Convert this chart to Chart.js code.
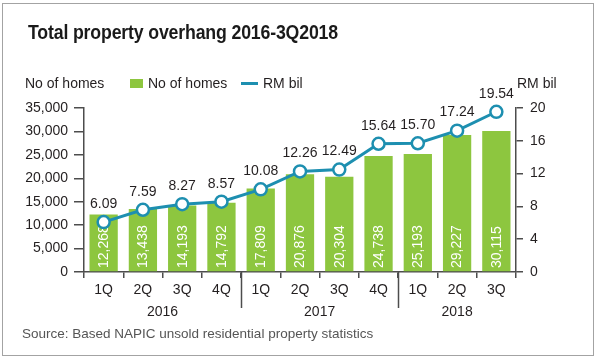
<!DOCTYPE html>
<html>
<head>
<meta charset="utf-8">
<script src="https://cdn.jsdelivr.net/npm/chart.js@4/dist/chart.umd.min.js"></script>
<style>
  html, body { margin: 0; padding: 0; background: #fff; }
  #wrap { position: relative; width: 600px; height: 361px; overflow: hidden;
          font-family: "Liberation Sans", Arial, Helvetica, sans-serif; color: #231f20; }
  #frame { position: absolute; left: 2px; top: 3px; width: 592px; height: 353px;
           border: 1.5px solid #a3a3a3; box-sizing: border-box; }
  #chart { position: absolute; left: 0; top: 0; }
  .t { position: absolute; white-space: nowrap; line-height: 1; }
  #title { left: 28px; top: 21px; font-size: 21px; font-weight: bold;
           transform-origin: 0 0; color: #1a1a1a; letter-spacing: -0.2px; }
  .lbl { font-size: 14px; top: 76px; }
  #swatch { position: absolute; left: 130px; top: 79px; width: 13px; height: 9px; background: #8dc63f; }
  #lineKey { position: absolute; left: 241px; top: 82px; width: 17px; height: 3px; background: #1d8fb0; }
  #source { left: 22px; top: 327px; font-size: 13.5px; color: #555; }
</style>
</head>
<body>
<div id="wrap">
  <div id="frame"></div>
  <canvas id="chart" width="600" height="361"></canvas>
  <div class="t" id="title">Total property overhang 2016-3Q2018</div>
  <div class="t lbl" style="left:25px">No of homes</div>
  <div id="swatch"></div>
  <div class="t lbl" style="left:148px">No of homes</div>
  <div id="lineKey"></div>
  <div class="t lbl" style="left:263px">RM bil</div>
  <div class="t lbl" style="left:517px">RM bil</div>
  <div class="t" id="source">Source: Based NAPIC unsold residential property statistics</div>
</div>
<script>
// data
var quarters = ["1Q", "2Q", "3Q", "4Q", "1Q", "2Q", "3Q", "4Q", "1Q", "2Q", "3Q"];
var years = ["2016", "2017", "2018"];
var yearFirst = [0, 4, 8];
var yearLast = [3, 7, 10];
var homes = [12268, 13438, 14193, 14792, 17809, 20876, 20304, 24738, 25193, 29227, 30115];
var rmBil = [6.09, 7.59, 8.27, 8.57, 10.08, 12.26, 12.49, 15.64, 15.70, 17.24, 19.54];
var homesMax = 35000, homesStep = 5000;
var rmMax = 20, rmStep = 4;

(function () {
  var GREEN = "#8dc63f";
  var TEAL = "#1d8fb0";
  var AXIS = "#4d4d4d";
  var TEXT = "#231f20";
  var FONT = '"Liberation Sans", Arial, Helvetica, sans-serif';

  // squeeze the title to the condensed width of the original
  var title = document.getElementById("title");
  var tw = title.getBoundingClientRect().width;
  if (tw > 0) title.style.transform = "scaleX(" + (310 / tw) + ")";

  // -------- custom label drawing --------
  var labelPlugin = {
    id: "labels",
    afterDatasetDraw: function (chart, args) {
      if (args.meta.type !== "bar") return;
      var ctx = chart.ctx, bottom = chart.chartArea.bottom;
      ctx.save();
      ctx.fillStyle = "#fff";
      ctx.font = "14px " + FONT;
      ctx.textAlign = "left";
      ctx.textBaseline = "middle";
      args.meta.data.forEach(function (bar, i) {
        ctx.save();
        ctx.translate(bar.x + 0.5, bottom - 4);
        ctx.rotate(-Math.PI / 2);
        ctx.fillText(homes[i].toLocaleString("en-US"), 0, 0);
        ctx.restore();
      });
      ctx.restore();
    },
    afterDatasetsDraw: function (chart) {
      var ctx = chart.ctx;
      var meta = chart.getDatasetMeta(0);
      ctx.save();
      ctx.fillStyle = TEXT;
      ctx.font = "14px " + FONT;
      ctx.textAlign = "center";
      ctx.textBaseline = "middle";
      meta.data.forEach(function (pt, i) {
        ctx.fillText(rmBil[i].toFixed(2), pt.x, pt.y - 18);
      });
      ctx.restore();
    },
    afterDraw: function (chart) {
      var ctx = chart.ctx, x = chart.scales.x, bottom = chart.chartArea.bottom;
      ctx.save();
      ctx.strokeStyle = AXIS;
      ctx.lineWidth = 1.5;
      for (var k = 1; k < yearFirst.length; k++) {
        var sx = Math.round((x.getPixelForValue(yearFirst[k] - 1) + x.getPixelForValue(yearFirst[k])) / 2) + 0.5;
        ctx.beginPath();
        ctx.moveTo(sx, bottom);
        ctx.lineTo(sx, bottom + 36);
        ctx.stroke();
      }
      ctx.fillStyle = TEXT;
      ctx.font = "14px " + FONT;
      ctx.textAlign = "center";
      ctx.textBaseline = "middle";
      years.forEach(function (y, k) {
        var cx = (x.getPixelForValue(yearFirst[k]) + x.getPixelForValue(yearLast[k])) / 2;
        ctx.fillText(y, cx, bottom + 40);
      });
      ctx.restore();
    }
  };

  new Chart(document.getElementById("chart").getContext("2d"), {
    data: {
      labels: quarters,
      datasets: [{
        type: "line",
        label: "RM bil",
        data: rmBil,
        yAxisID: "y1",
        order: 0,
        borderColor: TEAL,
        borderWidth: 3,
        pointRadius: 6,
        pointBorderWidth: 2.5,
        pointBackgroundColor: "#fff",
        pointBorderColor: TEAL,
        tension: 0,
        clip: false
      }, {
        type: "bar",
        label: "No of homes",
        data: homes,
        yAxisID: "y",
        order: 1,
        backgroundColor: GREEN,
        barPercentage: 0.72,
        categoryPercentage: 1
      }]
    },
    options: {
      responsive: false,
      animation: false,
      layout: { padding: { top: 108, left: 0, right: 0, bottom: 0 } },
      plugins: { legend: { display: false }, tooltip: { enabled: false } },
      scales: {
        x: {
          afterFit: function (s) { s.height = 89; },
          grid: { display: true, offset: true, drawOnChartArea: false, tickLength: 6, color: AXIS, lineWidth: 1.5 },
          border: { display: true, color: AXIS, width: 1.5 },
          ticks: { color: TEXT, font: { size: 14, family: FONT }, padding: 4, maxRotation: 0, autoSkip: false }
        },
        y: {
          position: "left",
          min: 0, max: homesMax,
          afterFit: function (s) { s.width = 84; },
          grid: { drawOnChartArea: false, tickLength: 10, color: AXIS, lineWidth: 1.5 },
          border: { display: true, color: AXIS, width: 1.5 },
          ticks: {
            stepSize: homesStep, color: TEXT, padding: 6, font: { size: 14, family: FONT },
            callback: function (v) { return v.toLocaleString("en-US"); }
          }
        },
        y1: {
          position: "right",
          min: 0, max: rmMax,
          afterFit: function (s) { s.width = 84; },
          grid: { drawOnChartArea: false, tickLength: 7, color: AXIS, lineWidth: 1.5 },
          border: { display: true, color: AXIS, width: 1.5 },
          ticks: { stepSize: rmStep, color: TEXT, padding: 7, font: { size: 14, family: FONT } }
        }
      }
    },
    plugins: [labelPlugin]
  });
})();
</script>
</body>
</html>
